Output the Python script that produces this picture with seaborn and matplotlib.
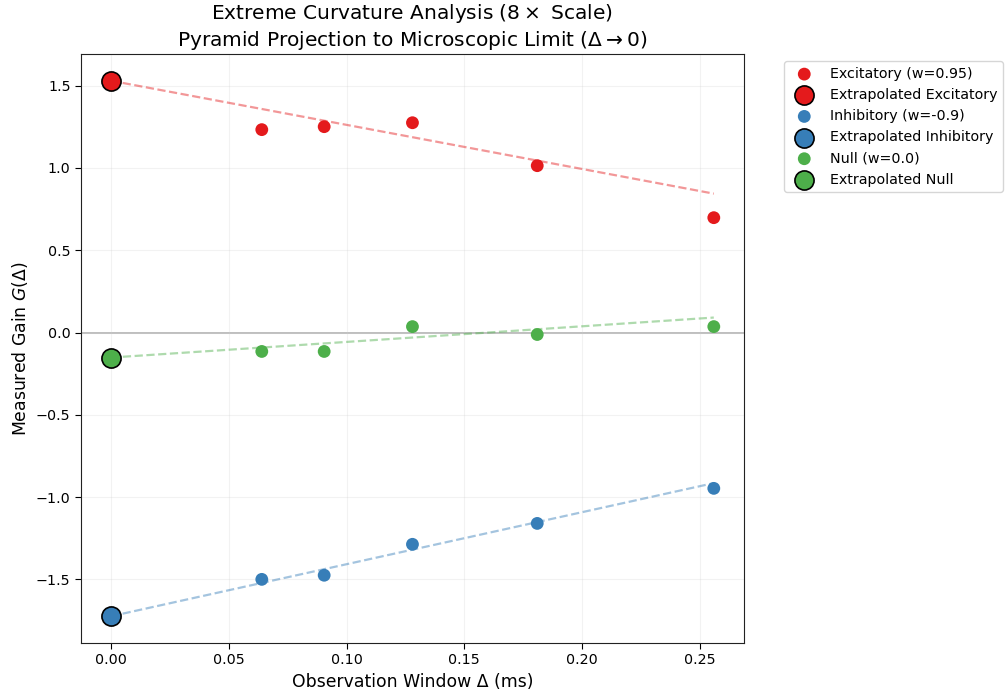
import numpy as np
import pandas as pd
import matplotlib.pyplot as plt
import seaborn as sns

# Observation windows (ms)
windows = [0.064, 0.0905, 0.128, 0.181, 0.256]

# Measured gains per neuron type
excitatory = [1.233, 1.251, 1.275, 1.014, 0.698]
inhibitory = [-1.500, -1.475, -1.287, -1.160, -0.947]
null = [-0.115, -0.115, 0.036, -0.012, 0.036]

# Extrapolated gain at window -> 0 and fit value at the largest window
extrap = {'Excitatory': 1.530, 'Inhibitory': -1.724, 'Null': -0.152}
fit_end = {'Excitatory': 0.844, 'Inhibitory': -0.915, 'Null': 0.091}

labels = {'Excitatory': 'Excitatory (w=0.95)',
          'Inhibitory': 'Inhibitory (w=-0.9)',
          'Null': 'Null (w=0.0)'}
series = {'Excitatory': excitatory, 'Inhibitory': inhibitory, 'Null': null}
colors = {'Excitatory': '#e41a1c', 'Inhibitory': '#377eb8', 'Null': '#4daf4a'}

sns.set_style('white', {'text.color': 'black', 'axes.labelcolor': 'black',
                        'xtick.color': 'black', 'ytick.color': 'black',
                        'axes.edgecolor': '#222222'})
fig = plt.figure(figsize=(10.06, 6.94), dpi=100)
ax = fig.add_axes([0.0805, 0.0735, 0.659, 0.8487])

for name, vals in series.items():
    df = pd.DataFrame({'window': windows, 'gain': vals})
    c = colors[name]
    # fitted line back to zero
    ax.plot([0, windows[-1]], [extrap[name], fit_end[name]], '--',
            color=c, alpha=0.45, linewidth=1.6, zorder=1)
    sns.scatterplot(data=df, x='window', y='gain', color=c, s=85,
                    edgecolor='none', label=labels[name], ax=ax, zorder=3)
    sns.scatterplot(x=[0.0], y=[extrap[name]], color=c, s=190,
                    edgecolor='black', linewidth=1.2,
                    label='Extrapolated ' + name, ax=ax, zorder=4)

ax.axhline(0, color='gray', alpha=0.6, linewidth=1.2, zorder=0)
ax.grid(True, alpha=0.25)

ax.set_title('Extreme Curvature Analysis ($8\\times$ Scale)\n'
             'Pyramid Projection to Microscopic Limit ($\\Delta \\to 0$)',
             fontsize=14.5)
ax.set_xlabel('Observation Window Δ (ms)', fontsize=12.4)
ax.set_ylabel('Measured Gain $G(\\Delta)$', fontsize=12.4)
ax.tick_params(labelsize=10.3, left=True, bottom=True, length=4)
ax.legend(bbox_to_anchor=(1.05, 1), loc='upper left', fontsize=10.3,
          frameon=True)

plt.savefig('out.png', dpi=100)
